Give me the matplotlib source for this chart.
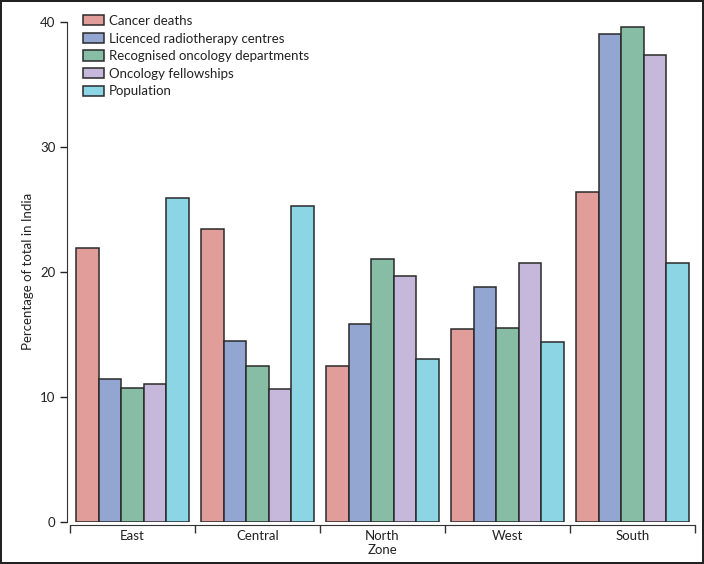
import numpy as np
import matplotlib.pyplot as plt

# data
zones = ["East", "Central", "North", "West", "South"]
series = ["Cancer deaths", "Licenced radiotherapy centres",
          "Recognised oncology departments", "Oncology fellowships", "Population"]
cancer_deaths = [21.9, 23.4, 12.5, 15.4, 26.4]
radiotherapy = [11.4, 14.5, 15.8, 18.8, 39.0]
oncology_depts = [10.7, 12.5, 21.0, 15.5, 39.6]
fellowships = [11.0, 10.6, 19.7, 20.7, 37.3]
population = [25.9, 25.3, 13.0, 14.4, 20.7]

values = [cancer_deaths, radiotherapy, oncology_depts, fellowships, population]
colors = ["#E09D99", "#93A6D2", "#86BDA4", "#C5B8DA", "#8CD5E4"]

plt.rcParams['font.family'] = ['Lato', 'DejaVu Sans']

fig = plt.figure(figsize=(7.04, 5.64), dpi=100)
fig.patch.set_edgecolor("#222222")
fig.patch.set_linewidth(1.5)
ax = fig.add_axes([0.0994, 0.0745, 0.8878, 0.887])

x = np.arange(len(zones))
w = 0.181
for i, (vals, name) in enumerate(zip(values, series)):
    ax.bar(x + (i - 2) * w, vals, width=w, color=colors[i], edgecolor="#2a2a2a",
           linewidth=1.1, label=name)

ax.set_xlim(-0.5, 4.5)
ax.set_ylim(0, 40)
ax.set_yticks([0, 10, 20, 30, 40])
ax.set_xticks(x)
ax.set_xticklabels(zones)
ax.set_xticks(np.arange(-0.5, 5, 1), minor=True)
ax.tick_params(axis="x", which="major", length=0, pad=4, labelsize=9.5, colors="#222222")
ax.tick_params(axis="x", which="minor", length=6, width=1.0, color="#333333")
ax.tick_params(axis="y", length=5, width=1.0, labelsize=9.5, colors="#222222")

for side in ["top", "right"]:
    ax.spines[side].set_visible(False)
ax.spines["left"].set_color("#333333")
ax.spines["bottom"].set_color("#333333")
ax.spines["bottom"].set_position(("outward", 2))
ax.spines["left"].set_position(("outward", 2))

ax.set_xlabel("Zone", fontsize=9.5, labelpad=1, color="#222222")
ax.set_ylabel("Percentage of total in India", fontsize=9.5, labelpad=4, color="#222222")

leg = ax.legend(loc="upper left", bbox_to_anchor=(0.012, 1.024), frameon=False,
                fontsize=9.5, handlelength=1.6, handleheight=0.8,
                handletextpad=0.4, labelspacing=0.42, borderaxespad=0)
for t in leg.get_texts():
    t.set_color("#222222")

fig.savefig("out.png", dpi=100, edgecolor=fig.get_edgecolor())
